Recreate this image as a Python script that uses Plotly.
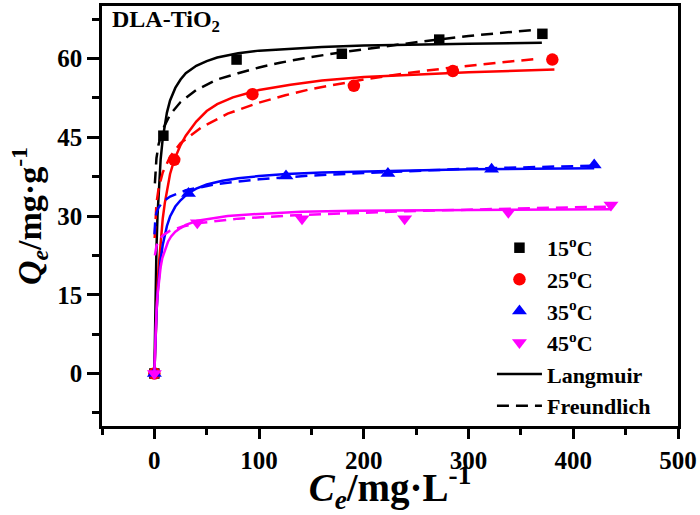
import plotly.graph_objects as go

# ---- experimental data ----
series_names = ["15<sup>o</sup>C", "25<sup>o</sup>C", "35<sup>o</sup>C", "45<sup>o</sup>C"]
colors = ["#000000", "#FF0000", "#0000FF", "#FF00FF"]
symbols = ["square", "circle", "triangle-up", "triangle-down"]

ce_15 = [0, 8.6, 78.5, 179, 272, 370.5]
qe_15 = [0, 45.3, 59.8, 60.9, 63.6, 64.7]
ce_25 = [0, 19, 93.6, 190.5, 285, 380]
qe_25 = [0, 40.7, 53.2, 54.8, 57.6, 59.8]
ce_35 = [0, 32.6, 125.7, 223, 322, 420]
qe_35 = [0, 34.3, 37.6, 38.1, 38.9, 39.7]
ce_45 = [0, 41, 141, 239, 338, 436]
qe_45 = [0, 28.7, 29.5, 29.5, 30.7, 32.1]

# ---- fitted curves ----
lang_c_15 = [0, 0.5, 1, 1.5, 2, 3, 4, 5, 6, 8, 10, 12, 15, 20, 25, 30, 40, 50, 60, 80, 100, 130, 160, 200, 250, 300, 370]
lang_q_15 = [0, 8.3, 14.6, 19.7, 23.8, 30.1, 34.6, 38.1, 40.8, 44.8, 47.6, 49.7, 52, 54.4, 56, 57.2, 58.6, 59.5, 60.2, 61, 61.5, 61.9, 62.2, 62.5, 62.7, 62.8, 63.0]
freu_c_15 = [0.5, 1, 2, 4, 8, 15, 25, 40, 60, 80, 100, 120, 150, 180, 220, 250, 300, 365]
freu_q_15 = [36.2, 38.5, 41, 43.6, 46.5, 49.3, 51.7, 54, 56, 57.2, 58.3, 59.2, 60.3, 61.2, 62.3, 63.1, 64.3, 65.5]

lang_c_25 = [0, 1, 2, 3, 4, 6, 8, 10, 12, 15, 19, 25, 30, 40, 50, 60, 75, 100, 130, 160, 200, 250, 300, 382]
lang_q_25 = [0, 6.5, 12, 16.5, 20, 25.5, 29.5, 32.5, 35, 38, 40.7, 43.5, 45.3, 48, 50, 51.3, 52.6, 54, 55, 55.8, 56.5, 57, 57.4, 57.9]
freu_c_25 = [0.3, 1, 2, 4, 8, 15, 25, 45, 70, 100, 125, 150, 200, 240, 285, 368]
freu_q_25 = [25.8, 29.8, 32.4, 35.2, 38.3, 41.3, 43.9, 46.9, 49.5, 51.6, 53, 54.2, 56, 57.2, 58.3, 60]

lang_c_35 = [0, 0.5, 1, 2, 3, 4, 5, 6, 8, 10, 12, 15, 20, 25, 32, 40, 50, 65, 80, 100, 126, 160, 200, 250, 300, 360, 420]
lang_q_35 = [0, 3.6, 6.7, 11.2, 15.1, 17.8, 19.9, 21.7, 24.5, 26.5, 28.1, 29.9, 31.8, 33, 34.3, 35.2, 36, 36.7, 37.2, 37.6, 38, 38.3, 38.5, 38.7, 38.9, 39, 39.1]
freu_c_35 = [0.1, 0.5, 1, 2, 4, 8, 15, 30, 60, 100, 150, 200, 300, 420]
freu_q_35 = [26.5, 28.6, 29.6, 30.6, 31.6, 32.7, 33.7, 34.9, 36.1, 37, 37.7, 38.2, 39, 39.6]

lang_c_45 = [0, 0.5, 1, 2, 3, 4, 5, 6, 7.6, 10, 13, 16, 20, 25, 30, 41, 55, 70, 100, 140, 190, 240, 340, 436]
lang_q_45 = [0, 4, 7.3, 11.8, 14.9, 17.2, 18.9, 20.3, 22, 23.6, 25.1, 26.1, 27, 27.7, 28.3, 29.1, 29.6, 30, 30.4, 30.8, 31, 31.1, 31.2, 31.3]
freu_c_45 = [0.5, 1, 2, 4, 8, 15, 27, 45, 80, 140, 240, 340, 436]
freu_q_45 = [22.5, 23.3, 24.3, 25.3, 26.3, 27.2, 28, 28.7, 29.5, 30.2, 30.9, 31.4, 31.8]

x_range = [-50, 500]
y_range = [-10, 70]
x_dtick, x_minor = 100, 50
y_dtick, y_minor = 15, 7.5

data = [
    (ce_15, qe_15, lang_c_15, lang_q_15, freu_c_15, freu_q_15, 10.5),
    (ce_25, qe_25, lang_c_25, lang_q_25, freu_c_25, freu_q_25, 12.5),
    (ce_35, qe_35, lang_c_35, lang_q_35, freu_c_35, freu_q_35, 13),
    (ce_45, qe_45, lang_c_45, lang_q_45, freu_c_45, freu_q_45, 13),
]

FONT = "Liberation Serif"
LW = 2.5
DASH = "12px,7px"

fig = go.Figure()
for i, (cx, qy, lc, lq, fc, fq, msize) in enumerate(data):
    fig.add_trace(go.Scatter(
        x=cx, y=qy, mode="markers", name=series_names[i],
        marker=dict(symbol=symbols[i], color=colors[i], size=msize, line=dict(width=0)),
        showlegend=True))
    fig.add_trace(go.Scatter(
        x=lc, y=lq, mode="lines", line=dict(color=colors[i], width=LW),
        showlegend=False, hoverinfo="skip"))
    fig.add_trace(go.Scatter(
        x=fc, y=fq, mode="lines", line=dict(color=colors[i], width=LW, dash=DASH),
        showlegend=False, hoverinfo="skip"))

fig.add_trace(go.Scatter(x=[None], y=[None], mode="lines", name="Langmuir",
                         line=dict(color="black", width=LW)))
fig.add_trace(go.Scatter(x=[None], y=[None], mode="lines", name="Freundlich",
                         line=dict(color="black", width=LW, dash=DASH)))

axis_common = dict(
    showgrid=False, zeroline=False, showline=True, linecolor="black", linewidth=2.5,
    mirror=True, ticks="outside", tickcolor="black", tickwidth=2.5,
    tickfont=dict(family=FONT, size=25, color="black", weight="bold"),
)

fig.update_layout(
    width=700, height=515,
    margin=dict(l=102, r=22, t=3, b=89),
    paper_bgcolor="white", plot_bgcolor="white",
    font=dict(family=FONT, color="black", weight="bold"),
    xaxis=dict(range=x_range, tick0=0, dtick=x_dtick, ticklen=10,
               minor=dict(tick0=0, dtick=x_minor, ticklen=6, tickwidth=2.5, tickcolor="black", ticks="outside", showgrid=False),
               title=dict(text="<i>C</i><sub><i>e</i></sub>/mg·L<sup>-1</sup>",
                          font=dict(family=FONT, size=39, color="black", weight="bold"), standoff=0),
               **axis_common),
    yaxis=dict(range=y_range, tick0=0, dtick=y_dtick, ticklen=12,
               minor=dict(tick0=0, dtick=y_minor, ticklen=7, tickwidth=2.5, tickcolor="black", ticks="outside", showgrid=False),
               title=dict(text="<i>Q</i><sub><i>e</i></sub>/mg·g<sup>-1</sup>",
                          font=dict(family=FONT, size=34, color="black", weight="bold"), standoff=6),
               **axis_common),
    legend=dict(x=0.677, y=0.474, xanchor="left", yanchor="top",
                bgcolor="rgba(0,0,0,0)", borderwidth=0, itemwidth=45,
                font=dict(family=FONT, size=22, color="black", weight="bold"),
                tracegroupgap=0),
    annotations=[dict(text="DLA-TiO<sub>2</sub>", xref="paper", yref="paper",
                      x=0.014, y=0.965, xanchor="left", yanchor="middle", showarrow=False,
                      font=dict(family=FONT, size=24, color="black", weight="bold"))],
)

fig.write_html("out.html")
